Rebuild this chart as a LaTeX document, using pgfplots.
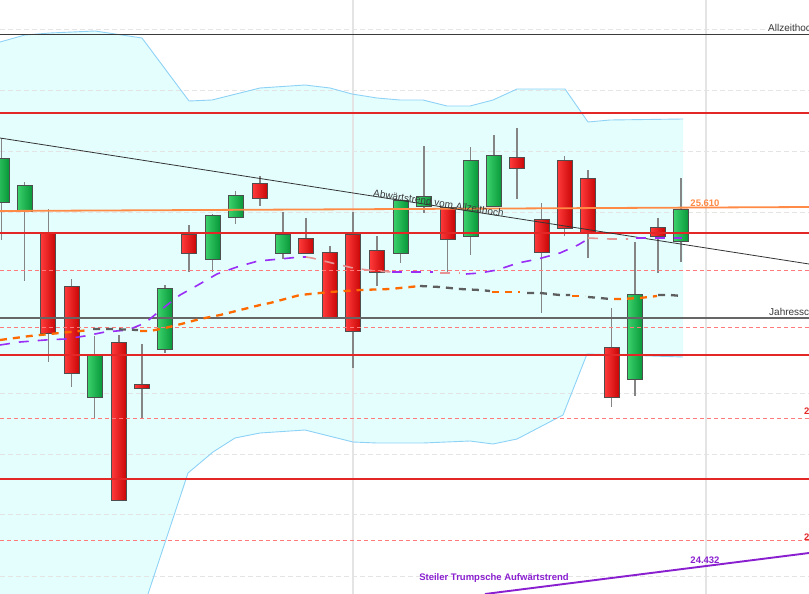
\documentclass[border=0pt]{standalone}
\usepackage{fontspec}
\setmainfont{Liberation Sans}
\usepackage{pgfplots}
\pgfplotsset{compat=1.18}
\usepgfplotslibrary{statistics}
\definecolor{bandfill}{HTML}{E4FEFE}
\definecolor{bandline}{HTML}{8ED2F6}
\definecolor{gridc}{HTML}{E4E4E4}
\definecolor{lvlred}{HTML}{E32626}
\definecolor{lvldash}{HTML}{FF7A7A}
\definecolor{lvlorange}{HTML}{FF8A45}
\definecolor{trendpurple}{HTML}{8A1FD0}
\definecolor{mapurple}{HTML}{9A2EF5}
\definecolor{mafade}{HTML}{E79494}
\definecolor{maorange}{HTML}{FF6A00}
\definecolor{magrey}{HTML}{5E5E5E}
\definecolor{wick}{HTML}{858585}
\definecolor{cborder}{HTML}{4E4E4E}
\definecolor{redL}{HTML}{FF3A3A}
\definecolor{redR}{HTML}{C90606}
\definecolor{greenL}{HTML}{3CD26C}
\definecolor{greenR}{HTML}{08973A}
\definecolor{txt}{HTML}{3A3A3A}

\pgfplotsset{
  candle/.style={boxplot/draw direction=y, boxplot/box extend=15, boxplot/whisker extend=0,
    boxplot/every whisker/.style={draw=wick, line width=1.1pt},
    boxplot/every median/.style={draw=cborder, line width=0.7pt}},
  rc/.style={candle, boxplot/every box/.style={draw=cborder, line width=0.7pt, left color=redL, right color=redR}},
  gc/.style={candle, boxplot/every box/.style={draw=cborder, line width=0.7pt, left color=greenL, right color=greenR}},
  hgrid/.style={gridc, line width=0.8pt, dash pattern=on 5pt off 3pt},
  lvl/.style={lvlred, line width=1.9pt},
  lvld/.style={lvldash, line width=0.9pt, dash pattern=on 4pt off 3pt},
  mashort/.style={line width=1.6pt, dash pattern=on 10pt off 9pt},
  malong/.style={line width=2.3pt, dash pattern=on 7pt off 6pt},
}
\tikzset{boldlbl/.style={anchor=base, inner sep=0pt, font=\fontsize{9.5}{11}\selectfont\bfseries}}

\begin{document}
\begin{tikzpicture}
\useasboundingbox (0,0) rectangle (809pt,594pt);
\clip (0,0) rectangle (809pt,594pt);
\begin{axis}[scale only axis, width=809pt, height=594pt, at={(0,0)}, anchor=south west,
  xmin=0, xmax=809, ymin=0, ymax=594, y dir=reverse, hide axis, clip=true,
  every node/.style={font=\fontsize{8.3}{10}\selectfont}]

% Bollinger band area
\addplot[fill=bandfill, draw=none] coordinates {
  (0,42)(25,35)(50,33)(95,31)(142,38)(189,101)(212,100)(260,88)(305,85)(330,88)(352,94)(377,98)
  (400,100)(423,100)(447,106)(470,106)(493,100)(517,89)(565,89)(588,122)(610,120)(683,119)
  (683,357)(587,354)(563,415)(517,439)(493,444)(470,441)(423,443)(377,443)(353,442)(305,430)
  (260,433)(235,438)(213,452)(188,473)(148,594)(0,594)} -- cycle;

% grid
\addplot[hgrid] coordinates {(0,29)(809,29)};
\addplot[hgrid] coordinates {(0,90)(809,90)};
\addplot[hgrid] coordinates {(0,151)(809,151)};
\addplot[hgrid] coordinates {(0,212)(809,212)};
\addplot[hgrid] coordinates {(0,393)(809,393)};
\addplot[hgrid] coordinates {(0,454)(809,454)};
\addplot[hgrid] coordinates {(0,514)(809,514)};
\addplot[hgrid] coordinates {(0,576)(809,576)};
\addplot[gridc, line width=1.2pt] coordinates {(353,0)(353,594)};
\addplot[gridc, line width=1.2pt] coordinates {(706,0)(706,594)};

% band lines
\addplot[bandline, line width=0.9pt] coordinates {
  (0,42)(25,35)(50,33)(95,31)(142,38)(189,101)(212,100)(260,88)(305,85)(330,88)(352,94)(377,98)
  (400,100)(423,100)(447,106)(470,106)(493,100)(517,89)(565,89)(588,122)(610,120)(683,119)};
\addplot[bandline, line width=0.9pt] coordinates {
  (148,594)(188,473)(213,452)(235,438)(260,433)(305,430)(353,442)(377,443)(423,443)(470,441)
  (493,444)(517,439)(563,415)(587,354)(683,357)};

% candles: wick top, body top, body bottom, wick bottom (pixel rows)
\addplot[gc, boxplot prepared={draw position=1.5, lower whisker=138, lower quartile=158, median=158, upper quartile=202, upper whisker=240}] coordinates {};
\addplot[gc, boxplot prepared={draw position=24.7, lower whisker=182, lower quartile=185, median=185, upper quartile=211, upper whisker=281}] coordinates {};
\addplot[rc, boxplot prepared={draw position=48.3, lower whisker=209, lower quartile=232, median=232, upper quartile=333, upper whisker=362}] coordinates {};
\addplot[rc, boxplot prepared={draw position=71.7, lower whisker=279, lower quartile=286, median=286, upper quartile=373, upper whisker=387}] coordinates {};
\addplot[gc, boxplot prepared={draw position=94.7, lower whisker=336, lower quartile=354, median=354, upper quartile=397, upper whisker=418}] coordinates {};
\addplot[rc, boxplot prepared={draw position=119, lower whisker=335, lower quartile=342, median=342, upper quartile=500, upper whisker=500}] coordinates {};
\addplot[rc, boxplot prepared={draw position=142, lower whisker=344, lower quartile=384, median=384, upper quartile=388, upper whisker=418}] coordinates {};
\addplot[gc, boxplot prepared={draw position=165, lower whisker=285, lower quartile=288, median=288, upper quartile=349, upper whisker=353}] coordinates {};
\addplot[rc, boxplot prepared={draw position=189, lower whisker=225, lower quartile=234, median=234, upper quartile=253, upper whisker=272}] coordinates {};
\addplot[gc, boxplot prepared={draw position=212.5, lower whisker=214, lower quartile=215, median=215, upper quartile=259, upper whisker=272}] coordinates {};
\addplot[gc, boxplot prepared={draw position=235.8, lower whisker=191, lower quartile=195, median=195, upper quartile=217, upper whisker=224}] coordinates {};
\addplot[rc, boxplot prepared={draw position=260, lower whisker=176, lower quartile=183, median=183, upper quartile=198, upper whisker=206}] coordinates {};
\addplot[gc, boxplot prepared={draw position=283, lower whisker=212, lower quartile=234, median=234, upper quartile=253, upper whisker=259}] coordinates {};
\addplot[rc, boxplot prepared={draw position=306, lower whisker=218, lower quartile=238, median=238, upper quartile=253, upper whisker=254}] coordinates {};
\addplot[rc, boxplot prepared={draw position=330, lower whisker=246, lower quartile=252, median=252, upper quartile=318, upper whisker=319}] coordinates {};
\addplot[rc, boxplot prepared={draw position=353, lower whisker=212, lower quartile=234, median=234, upper quartile=331, upper whisker=368}] coordinates {};
\addplot[rc, boxplot prepared={draw position=377, lower whisker=236, lower quartile=250, median=250, upper quartile=272, upper whisker=286}] coordinates {};
\addplot[gc, boxplot prepared={draw position=400.5, lower whisker=199, lower quartile=200, median=200, upper quartile=253, upper whisker=263}] coordinates {};
\addplot[gc, boxplot prepared={draw position=424, lower whisker=146, lower quartile=196, median=196, upper quartile=206, upper whisker=213}] coordinates {};
\addplot[rc, boxplot prepared={draw position=447.5, lower whisker=207, lower quartile=207, median=207, upper quartile=239, upper whisker=274}] coordinates {};
\addplot[gc, boxplot prepared={draw position=470.8, lower whisker=147, lower quartile=160, median=160, upper quartile=236, upper whisker=255}] coordinates {};
\addplot[gc, boxplot prepared={draw position=494, lower whisker=135, lower quartile=155, median=155, upper quartile=206, upper whisker=206}] coordinates {};
\addplot[rc, boxplot prepared={draw position=517, lower whisker=128, lower quartile=157, median=157, upper quartile=168, upper whisker=199}] coordinates {};
\addplot[rc, boxplot prepared={draw position=541.5, lower whisker=203, lower quartile=219, median=219, upper quartile=252, upper whisker=313}] coordinates {};
\addplot[rc, boxplot prepared={draw position=564.7, lower whisker=156, lower quartile=160, median=160, upper quartile=228, upper whisker=236}] coordinates {};
\addplot[rc, boxplot prepared={draw position=588, lower whisker=170, lower quartile=178, median=178, upper quartile=233, upper whisker=258}] coordinates {};
\addplot[rc, boxplot prepared={draw position=611.5, lower whisker=308, lower quartile=347, median=347, upper quartile=397, upper whisker=407}] coordinates {};
\addplot[gc, boxplot prepared={draw position=635, lower whisker=242, lower quartile=294, median=294, upper quartile=379, upper whisker=396}] coordinates {};
\addplot[rc, boxplot prepared={draw position=658, lower whisker=218, lower quartile=227, median=227, upper quartile=236, upper whisker=273}] coordinates {};
\addplot[gc, boxplot prepared={draw position=681, lower whisker=178, lower quartile=209, median=209, upper quartile=241, upper whisker=262}] coordinates {};

% horizontal levels
\addplot[txt, line width=0.9pt] coordinates {(0,34)(809,34)};
\addplot[lvl] coordinates {(0,113)(809,113)};
\addplot[lvlorange, line width=1.8pt] coordinates {(0,211)(809,207)};
\addplot[lvl] coordinates {(0,233)(809,233)};
\addplot[lvld] coordinates {(0,270)(809,270)};
\addplot[black!60, line width=1.1pt] coordinates {(0,318)(809,318)};
\addplot[lvld] coordinates {(0,327)(809,327)};
\addplot[lvl] coordinates {(0,355)(809,355)};
\addplot[lvld] coordinates {(0,418)(809,418)};
\addplot[lvl] coordinates {(0,479)(809,479)};
\addplot[lvld] coordinates {(0,540)(809,540)};

% trend lines
\addplot[black!80, line width=0.8pt] coordinates {(0,138)(809,264)};
\addplot[trendpurple, line width=1.9pt] coordinates {(485,594)(809,553)};

% short moving average
\addplot[mapurple, mashort] coordinates {(0,345)(20,342)(45,340)(65,339)(85,336)(105,332)(128,330)(145,323)(162,309)(180,295)(198,285)(217,274)(237,267)(258,261)(280,259)(300,257)(306,257)};
\addplot[mafade, mashort] coordinates {(306,257)(312,258)(332,263)(353,268)(375,271)(392,272)};
\addplot[mapurple, mashort] coordinates {(392,272)(433,272)};
\addplot[mafade, mashort] coordinates {(440,273)(460,273)};
\addplot[mapurple, mashort] coordinates {(466,274)(480,273)(497,270)(518,263)(538,259)(560,253)(578,245)(588,239)};
\addplot[mafade, mashort] coordinates {(588,238)(610,239)(628,239)};
\addplot[mapurple, mashort] coordinates {(636,238)(662,238)(682,238)};

% long moving average
\addplot[maorange, malong] coordinates {(0,340)(30,336)(60,333)(90,330)};
\addplot[magrey, malong] coordinates {(93,329)(110,329)(138,330)};
\addplot[maorange, malong] coordinates {(140,331)(150,331)(165,328)(185,323)(200,319)(220,315)(240,310)(260,305)(270,303)(300,295)(330,292)(360,290)(390,289)(420,286)};
\addplot[magrey, malong] coordinates {(420,286)(440,287)(460,289)(480,290)(490,291)};
\addplot[maorange, malong] coordinates {(492,292)(520,292)};
\addplot[magrey, malong] coordinates {(527,293)(540,293)(560,295)(570,295)};
\addplot[maorange, malong] coordinates {(572,296)(585,296)};
\addplot[magrey, malong] coordinates {(588,297)(600,298)(610,299)};
\addplot[maorange, malong] coordinates {(614,299)(620,299)(640,298)(657,296)};
\addplot[magrey, malong] coordinates {(658,295)(670,295)(682,296)};

% labels
\node[txt, anchor=base west, inner sep=0pt] at (axis cs:768,31.5) {Allzeithoch};
\node[txt, anchor=base west, inner sep=0pt] at (axis cs:769,315.5) {Jahresschluss};
\node[txt, anchor=base, rotate=-8.9, inner sep=0pt] at (axis cs:438,206.5) {Abwärtstrend vom Allzeithoch};
\node[lvlorange, boldlbl] at (axis cs:705,206) {25.610};
\node[trendpurple, boldlbl] at (axis cs:705,563) {24.432};
\node[trendpurple, boldlbl] at (axis cs:494,580.5) {Steiler Trumpsche Aufwärtstrend};
\node[lvlred, boldlbl, anchor=base west] at (axis cs:804,414.5) {2};
\node[lvlred, boldlbl, anchor=base west] at (axis cs:804,540.5) {2};
\end{axis}
\end{tikzpicture}
\end{document}
